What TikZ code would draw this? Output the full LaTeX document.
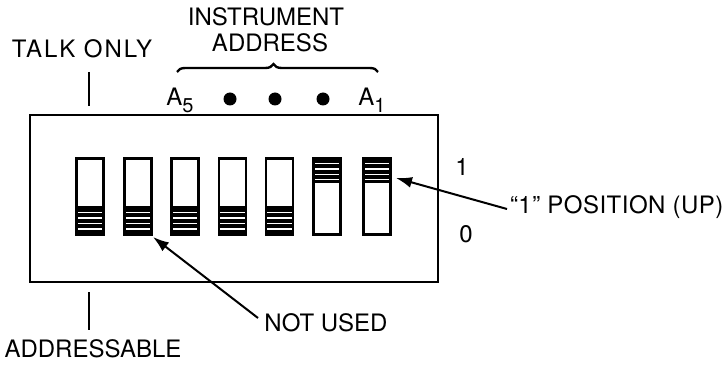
\documentclass[tikz,border=0pt]{standalone}
\usepackage{fontspec}
\setmainfont{TeX Gyre Heros}
\usetikzlibrary{arrows.meta,decorations.pathreplacing}
\tikzset{
  lbl/.style={inner sep=0pt, outer sep=0pt, font=\fontsize{24}{26}\selectfont},
  sw/.style={draw, line width=2.6pt, minimum width=27pt, minimum height=76pt, inner sep=0pt, outer sep=0pt},
  swdown/.style={sw, path picture={
    \fill ([yshift=28pt]path picture bounding box.south west) rectangle (path picture bounding box.south east);
    \foreach \k in {5.5,11,16.5,22}
      \draw[white, line width=1.6pt] ([yshift=\k pt]path picture bounding box.south west) -- ([yshift=\k pt]path picture bounding box.south east);
  }},
  swup/.style={sw, path picture={
    \fill ([yshift=-25pt]path picture bounding box.north west) rectangle (path picture bounding box.north east);
    \foreach \k in {5,10.5,16,21}
      \draw[white, line width=1.6pt] ([yshift=-\k pt]path picture bounding box.north west) -- ([yshift=-\k pt]path picture bounding box.north east);
  }},
  dotm/.style={circle, fill, minimum size=13pt, inner sep=0pt},
  ln/.style={line width=2pt},
  arr/.style={line width=2pt, -{Latex[length=16pt,width=11pt]}},
}
\begin{document}
\begin{tikzpicture}[x=1pt,y=-1pt]
\useasboundingbox (0,0) rectangle (728,366);
% panel
\node[draw, line width=2.4pt, minimum width=408pt, minimum height=167pt, inner sep=0pt] (box) at (234,198.5) {};
% switches
\node[swdown] (s1) at (90,196.5) {};
\node[swdown] (s2) at (138,196.5) {};
\node[swdown] (s3) at (185,196.5) {};
\node[swdown] (s4) at (232.5,196.5) {};
\node[swdown] (s5) at (279.5,196.5) {};
\node[swup] (s6) at (327,196.5) {};
\node[swup] (s7) at (377,196.5) {};
% labels
\node[lbl] (inst) at (266,17) {INSTRUMENT};
\node[lbl] (addr) at (270,43) {ADDRESS};
\node[lbl] (talk) at (82,49) {\addfontfeatures{LetterSpace=8}TALK ONLY};
\node[lbl] (addrbl) at (93,349) {ADDRESSABLE};
\node[lbl] (nu) at (326,323) {NOT USED};
\node[lbl, anchor=west] (pos) at (510,207) {\addfontfeatures{LetterSpace=2}“1” POSITION (UP)};
\node[lbl] (one) at (462,167) {1};
\node[lbl] (zero) at (466,234) {0};
\node[lbl] (a5) at (180,100) {A\raisebox{-7pt}{\fontsize{20}{20}\selectfont 5}};
\node[lbl] (a1) at (372,100) {A\raisebox{-7pt}{\fontsize{20}{20}\selectfont 1}};
\node[dotm] (d4) at (230,99) {};
\node[dotm] (d5) at (275,99) {};
\node[dotm] (d6) at (323,99) {};
% brace
\coordinate (bl) at (177,72);
\coordinate (br) at (378,72);
\draw[line width=2.4pt, decorate, decoration={brace, amplitude=8pt, aspect=0.48}] (bl) -- (br);
% ticks
\coordinate (t1) at (89,72);
\coordinate (t2) at (89,106);
\draw[ln] (t1) -- (t2);
\coordinate (b1) at (89,292);
\coordinate (b2) at (89,330);
\draw[ln] (b1) -- (b2);
% arrows
\coordinate (posTail) at (507,209);
\coordinate (posTip) at (396,178);
\draw[arr] (posTail) -- (posTip);
\coordinate (nuTail) at (258,318);
\coordinate (nuTip) at (153,237);
\draw[arr] (nuTail) -- (nuTip);
\end{tikzpicture}
\end{document}
